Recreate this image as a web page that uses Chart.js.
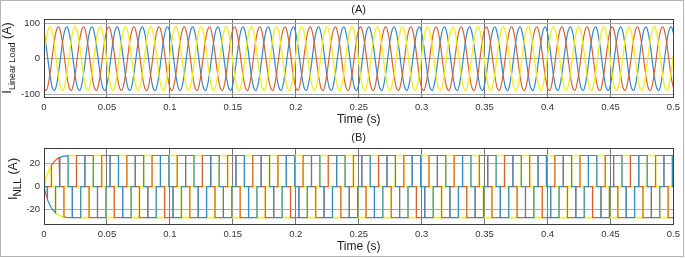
<!DOCTYPE html>
<html>
<head>
<meta charset="utf-8">
<script src="https://cdn.jsdelivr.net/npm/chart.js@4.4.1/dist/chart.umd.min.js"></script>
<style>
html, body { margin: 0; padding: 0; background: #fff; }
#wrap { position: relative; width: 685px; height: 258px; overflow: hidden; }
#boxA { position: absolute; left: 0; top: 0; width: 685px; height: 128px; }
#boxB { position: absolute; left: 0; top: 128px; width: 685px; height: 130px; }
#frame { position: absolute; left: 0; top: 0; width: 682px; height: 255px; border: 1px solid #b4b4b4; pointer-events: none; }
</style>
</head>
<body>
<div id="wrap">
  <div id="boxA"><canvas id="chartA"></canvas></div>
  <div id="boxB"><canvas id="chartB"></canvas></div>
  <div id="frame"></div>
</div>
<script>
// shared time axis (s)
const xTicks = [0, 0.05, 0.1, 0.15, 0.2, 0.25, 0.3, 0.35, 0.4, 0.45, 0.5];

// (A) linear load currents, one 50 Hz cycle read every 30 deg (A)
const periodA = 0.02;
const cyclesA = 25;
const blueA   = [73, 37, -9, -53, -82, -90, -73, -37, 9, 53, 82, 90];
const orangeA = [-82, -90, -73, -37, 9, 53, 82, 90, 73, 37, -9, -53];
const yellowA = [9, 53, 82, 90, 73, 37, -9, -53, -82, -90, -73, -37];
const yTicksA = [-100, 0, 100];

// (B) non-linear load currents: switching instants (ms) in one 20 ms cycle, level +1 / 0 / -1
const periodB = 0.02;
const railB = 27;
const yellowSteps = [[0, 1], [5.833, 0], [9.167, -1], [15.833, 0], [19.167, 1]];
const blueSteps   = [[0, 0], [2.5, -1], [9.167, 0], [12.5, 1], [19.167, 0]];
const orangeSteps = [[0, -1], [2.5, 0], [5.833, 1], [12.5, 0], [15.833, -1]];
// start-up envelope: ms, fraction of rail
const envT = [0, 1, 2, 3, 4, 5, 6, 8, 10, 12, 15, 18, 20];
const envV = [0, 0.17, 0.31, 0.43, 0.53, 0.62, 0.69, 0.8, 0.88, 0.93, 0.97, 0.99, 1];
const yTicksB = [-20, 0, 20];

const FONT = '"Liberation Sans", Arial, Helvetica, sans-serif';

function tileCycle(cycle, period, n) {
  const pts = [];
  const step = period / cycle.length;
  for (let c = 0; c < n; c++) {
    cycle.forEach((v, k) => pts.push({ x: c * period + k * step, y: v }));
  }
  pts.push({ x: n * period, y: cycle[0] });
  return pts;
}

function envAt(ms) {
  if (ms >= envT[envT.length - 1]) return 1;
  for (let i = 1; i < envT.length; i++) {
    if (ms <= envT[i]) {
      const f = (ms - envT[i - 1]) / (envT[i] - envT[i - 1]);
      return envV[i - 1] + f * (envV[i] - envV[i - 1]);
    }
  }
  return 1;
}

function levelAt(steps, ms) {
  const m = ms % 20;
  let lvl = steps[0][1];
  steps.forEach(s => { if (m >= s[0]) lvl = s[1]; });
  return lvl;
}

function stepSeries(steps) {
  const pts = [];
  const n = Math.round(0.5 / periodB);
  let prev = null;
  for (let c = 0; c < n; c++) {
    steps.forEach(([ms, lvl]) => {
      const t = c * 20 + ms;
      if (prev !== null && lvl !== prev) pts.push({ x: t / 1000, y: prev * railB * envAt(t) });
      if (prev === null || lvl !== prev) pts.push({ x: t / 1000, y: lvl * railB * envAt(t) });
      prev = lvl;
    });
  }
  // start-up curve
  envT.forEach(t => {
    if (t > 0) pts.push({ x: t / 1000, y: levelAt(steps, t) * railB * envAt(t) });
  });
  pts.push({ x: 0.5, y: levelAt(steps, 500) * railB });
  return pts.sort((a, b) => a.x - b.x);
}

function yTitle(ctx, x, yc, main, sub, subSize, tail) {
  const parts = [
    { t: main, f: '13px ' + FONT, dy: 0 },
    { t: sub, f: subSize + 'px ' + FONT, dy: 4 },
    { t: tail, f: '12.5px ' + FONT, dy: 0 }
  ];
  let w = 0;
  parts.forEach(p => { ctx.font = p.f; p.w = ctx.measureText(p.t).width; w += p.w; });
  ctx.save();
  ctx.translate(x, yc);
  ctx.rotate(-Math.PI / 2);
  ctx.textAlign = 'left';
  ctx.textBaseline = 'alphabetic';
  let cur = -w / 2;
  parts.forEach(p => { ctx.font = p.f; ctx.fillText(p.t, cur, p.dy); cur += p.w; });
  ctx.restore();
}

const decor = {
  id: 'decor',
  afterDraw(chart, args, o) {
    const { ctx, chartArea: a } = chart;
    ctx.save();
    ctx.strokeStyle = '#3c3c3c';
    ctx.lineWidth = 1;
    ctx.strokeRect(Math.round(a.left) + 0.5, Math.round(a.top) + 0.5, Math.round(a.right - a.left), Math.round(a.bottom - a.top));
    ctx.fillStyle = '#222';
    ctx.textAlign = 'center';
    ctx.textBaseline = 'alphabetic';
    const cx = (a.left + a.right) / 2;
    ctx.font = '11px ' + FONT;
    ctx.fillText(o.title, cx, o.titleY);
    ctx.font = '12px ' + FONT;
    ctx.fillText('Time (s)', cx, o.xTitleY);
    yTitle(ctx, o.yTitleX, o.yTitleY, 'I', o.sub, o.subSize, ' (A)');
    ctx.restore();
  }
};

function scales(yMin, yMax, yTicks, xH) {
  return {
    x: {
      type: 'linear', min: 0, max: 0.5,
      afterBuildTicks: s => { s.ticks = xTicks.map(v => ({ value: v })); },
      afterFit: s => { s.height = xH; },
      grid: { color: '#767676', lineWidth: 1, drawTicks: false },
      border: { display: false },
      ticks: {
        padding: 5, color: '#333', maxRotation: 0, autoSkip: false,
        font: { family: FONT, size: 9.5 },
        callback: v => String(Math.round(v * 100) / 100)
      }
    },
    y: {
      min: yMin, max: yMax,
      afterBuildTicks: s => { s.ticks = yTicks.map(v => ({ value: v })); },
      afterFit: s => { s.width = 44; },
      grid: { color: '#a8a8a8', lineWidth: 1, drawTicks: false },
      border: { display: false },
      ticks: { padding: 4, color: '#333', font: { family: FONT, size: 9.5 } }
    }
  };
}

function line(data, color, width) {
  return { data: data, borderColor: color, borderWidth: width, pointRadius: 0, fill: false };
}

new Chart(document.getElementById('chartA'), {
  type: 'line',
  data: {
    datasets: [
      Object.assign(line(tileCycle(yellowA, periodA, cyclesA), '#f3ef1c', 1.4), { cubicInterpolationMode: 'monotone' }),
      Object.assign(line(tileCycle(orangeA, periodA, cyclesA), '#d8622e', 1.2), { cubicInterpolationMode: 'monotone' }),
      Object.assign(line(tileCycle(blueA, periodA, cyclesA), '#2f89c5', 1.2), { cubicInterpolationMode: 'monotone' })
    ]
  },
  options: {
    responsive: true, maintainAspectRatio: false, animation: false, events: [],
    layout: { padding: { left: 0, right: 11, top: 19, bottom: 0 } },
    scales: scales(-108, 112, yTicksA, 31),
    plugins: {
      legend: { display: false }, tooltip: { enabled: false },
      decor: { title: '(A)', titleY: 13, xTitleY: 123, yTitleX: 11, yTitleY: 58, sub: 'Linear Load', subSize: 9 }
    }
  },
  plugins: [decor]
});

new Chart(document.getElementById('chartB'), {
  type: 'line',
  data: {
    datasets: [
      line(stepSeries(blueSteps), '#2f8dc4', 1.2),
      line(stepSeries(orangeSteps), '#d8622e', 1.2),
      line(stepSeries(yellowSteps), '#f3ee2a', 1.6)
    ]
  },
  options: {
    responsive: true, maintainAspectRatio: false, animation: false, events: [],
    layout: { padding: { left: 0, right: 11, top: 20, bottom: 0 } },
    scales: scales(-32.5, 33.5, yTicksB, 34),
    plugins: {
      legend: { display: false }, tooltip: { enabled: false },
      decor: { title: '(B)', titleY: 13, xTitleY: 122, yTitleX: 17, yTitleY: 51, sub: 'NLL', subSize: 10 }
    }
  },
  plugins: [decor]
});
</script>
</body>
</html>
